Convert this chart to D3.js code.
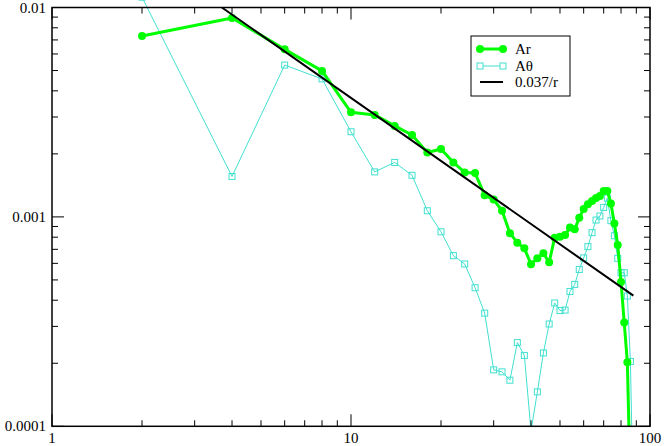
<!DOCTYPE html>
<html>
<head>
<meta charset="utf-8">
<script src="https://cdn.jsdelivr.net/npm/d3@7"></script>
<style>
  html, body { margin: 0; padding: 0; background: #fff; }
  svg { display: block; }
  text { font-family: "Liberation Serif", "Times New Roman", serif; }
</style>
</head>
<body>
<svg id="chart" width="664" height="446"></svg>
<script>
// ---- data ----
const radiusAr = [2,4,6,8,10,12,14,16,18,20,22,24,26,28,30,32,34,36,38,40,42,44,46,48,50,52,54,56,58,60,62,64,66,68,70,72,74,76,78,80,82,84,86];
const valuesAr = [0.00731,0.00891,0.00631,0.00498,0.00316,0.00307,0.00272,0.00246,0.00203,0.00211,0.00182,0.00163,0.00162,0.00127,0.00121,0.00107,0.000836,0.000753,0.000708,0.000594,0.000634,0.000670,0.000607,0.000796,0.000805,0.000820,0.000891,0.000872,0.000991,0.00109,0.00115,0.00119,0.00123,0.00126,0.00133,0.00133,0.00116,0.000931,0.000734,0.000489,0.000313,0.000202,0.00005];
const radiusAtheta = [2,4,6,8,10,12,14,16,18,20,22,24,26,28,30,32,34,36,38,40,42,44,46,48,50,52,54,56,58,60,62,64,66,68,70,72,74,76,78,80,82,84,86,88];
const valuesAtheta = [0.0112,0.00156,0.00531,0.00456,0.00255,0.00164,0.00182,0.00158,0.00107,0.000849,0.000653,0.000596,0.000459,0.000347,0.000186,0.000182,0.000166,0.000251,0.000218,0.000095,0.000146,0.000224,0.000308,0.000388,0.000357,0.000359,0.000440,0.000476,0.000561,0.000637,0.000721,0.000841,0.000966,0.00101,0.00111,0.00123,0.000959,0.000813,0.000634,0.000541,0.000541,0.000419,0.000204,0.00004];
const fitCoef = 0.037;
const fitRange = [3.7, 88];
const xTickLabels = ["1", "10", "100"];
const yTickLabels = ["0.0001", "0.001", "0.01"];
const legendLabels = ["Ar", "A\u03b8", "0.037/r"];

// ---- layout ----
const L = 52, R = 650, T = 7.5, B = 426.3;
const svg = d3.select("#chart");
const x = d3.scaleLog().domain([1, 100]).range([L, R]);
const y = d3.scaleLog().domain([0.0001, 0.01]).range([B, T]);

const green = "#00ff00";
const cyan = "#40e0d0";

svg.append("defs").append("clipPath").attr("id", "clip")
  .append("rect").attr("x", L).attr("y", -30).attr("width", R - L).attr("height", B + 30);

const plot = svg.append("g").attr("clip-path", "url(#clip)");

// Aθ series
const athetaData = radiusAtheta.map((r, i) => [r, valuesAtheta[i]]);
plot.append("path").datum(athetaData)
  .attr("fill", "none").attr("stroke", cyan).attr("stroke-width", 1)
  .attr("d", d3.line().x(d => x(d[0])).y(d => y(d[1])));
plot.selectAll(".sq").data(athetaData).enter().append("rect")
  .attr("x", d => x(d[0]) - 3).attr("y", d => y(d[1]) - 3)
  .attr("width", 6).attr("height", 6)
  .attr("fill", "none").attr("stroke", cyan).attr("stroke-width", 1);

// Ar series
const arData = radiusAr.map((r, i) => [r, valuesAr[i]]);
plot.append("path").datum(arData)
  .attr("fill", "none").attr("stroke", green).attr("stroke-width", 3)
  .attr("stroke-linejoin", "round")
  .attr("d", d3.line().x(d => x(d[0])).y(d => y(d[1])));
plot.selectAll(".dot").data(arData).enter().append("circle")
  .attr("cx", d => x(d[0])).attr("cy", d => y(d[1])).attr("r", 4)
  .attr("fill", green);

// fit line
const fitData = fitRange.map(r => [r, fitCoef / r]);
plot.append("path").datum(fitData)
  .attr("fill", "none").attr("stroke", "#000").attr("stroke-width", 2)
  .attr("d", d3.line().x(d => x(d[0])).y(d => y(d[1])));

// ---- axes (mirrored ticks, inward) ----
const xMajor = [1, 10, 100];
const xMinor = [];
[1, 10].forEach(dec => { for (let k = 2; k <= 9; k++) xMinor.push(dec * k); });
const yMajor = [0.0001, 0.001, 0.01];
const yMinor = [];
[0.0001, 0.001].forEach(dec => { for (let k = 2; k <= 9; k++) yMinor.push(dec * k); });

const ax = svg.append("g").attr("stroke", "#000").attr("stroke-width", 1);
function xt(v, len) {
  ax.append("line").attr("x1", x(v)).attr("x2", x(v)).attr("y1", B).attr("y2", B - len);
  ax.append("line").attr("x1", x(v)).attr("x2", x(v)).attr("y1", T).attr("y2", T + len);
}
function yt(v, len) {
  ax.append("line").attr("x1", L).attr("x2", L + len).attr("y1", y(v)).attr("y2", y(v));
  ax.append("line").attr("x1", R).attr("x2", R - len).attr("y1", y(v)).attr("y2", y(v));
}
xMajor.forEach(v => xt(v, 12));
xMinor.forEach(v => xt(v, 6));
yMajor.forEach(v => yt(v, 12));
yMinor.forEach(v => yt(v, 6));

svg.append("rect").attr("x", L).attr("y", T).attr("width", R - L).attr("height", B - T)
  .attr("fill", "none").attr("stroke", "#000").attr("stroke-width", 1.5);

// tick labels
xMajor.forEach((v, i) => {
  svg.append("text").attr("x", x(v)).attr("y", 443).attr("text-anchor", "middle")
    .attr("font-size", 15).text(xTickLabels[i]);
});
yMajor.forEach((v, i) => {
  svg.append("text").attr("x", 46).attr("y", y(v) + 5).attr("text-anchor", "end")
    .attr("font-size", 15).text(yTickLabels[i]);
});

// ---- legend ----
const lg = svg.append("g");
lg.append("rect").attr("x", 471).attr("y", 36).attr("width", 99).attr("height", 60)
  .attr("fill", "#fff").attr("stroke", "#000").attr("stroke-width", 1);
const rowY = [49, 66, 82];
// Ar
lg.append("line").attr("x1", 480).attr("x2", 503).attr("y1", rowY[0]).attr("y2", rowY[0])
  .attr("stroke", green).attr("stroke-width", 3);
[480, 503].forEach(cx => lg.append("circle").attr("cx", cx).attr("cy", rowY[0]).attr("r", 4).attr("fill", green));
// Aθ
lg.append("line").attr("x1", 480).attr("x2", 503).attr("y1", rowY[1]).attr("y2", rowY[1])
  .attr("stroke", cyan).attr("stroke-width", 1);
[480, 503].forEach(cx => lg.append("rect").attr("x", cx - 3).attr("y", rowY[1] - 3)
  .attr("width", 6).attr("height", 6).attr("fill", "#fff").attr("stroke", cyan));
// fit
lg.append("line").attr("x1", 480).attr("x2", 503).attr("y1", rowY[2]).attr("y2", rowY[2])
  .attr("stroke", "#000").attr("stroke-width", 2);
legendLabels.forEach((t, i) => {
  lg.append("text").attr("x", 515).attr("y", rowY[i] + 5).attr("font-size", 15).text(t);
});
</script>
</body>
</html>
